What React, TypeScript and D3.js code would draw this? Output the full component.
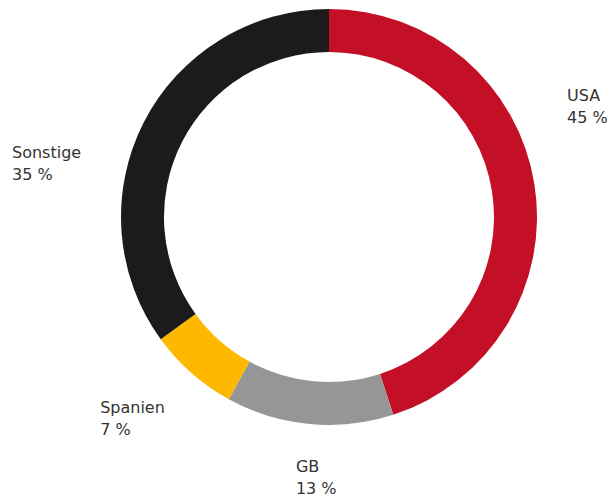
import React from "react";
import * as d3 from "d3";

const categories = ["USA", "GB", "Spanien", "Sonstige"];
const values = [45, 13, 7, 35];
const labels = ["45 %", "13 %", "7 %", "35 %"];
const colors = ["#C41026", "#969696", "#FFB800", "#1B1B1B"];

// layout: direction (degrees from top, clockwise) and distance of each label's top-left anchor
const labelAngles = [64.0, 187.4, 229.4, 280.5];
const labelRadius = [264.8, 257.1, 301.4, 322.4];

export default function App() {
  const width = 610;
  const height = 500;
  const cx = 329;
  const cy = 217;
  const outerR = 208;
  const innerR = 165;

  const data = categories.map((c, i) => ({ c, v: values[i], i }));
  const pie = d3.pie<any>().value((d) => d.v).sort(null);
  const arcs = pie(data);
  const arc = d3.arc<any>().innerRadius(innerR).outerRadius(outerR);

  return (
    <svg
      width={width}
      height={height}
      style={{ position: "absolute", left: 0, top: 0 }}
    >
      <g transform={`translate(${cx},${cy})`}>
        {arcs.map((a, i) => (
          <path key={i} d={arc(a) as string} fill={colors[i]} />
        ))}
        {arcs.map((a, i) => {
          const ang = (labelAngles[i] * Math.PI) / 180;
          const r = labelRadius[i];
          const x = r * Math.sin(ang);
          const y = -r * Math.cos(ang);
          return (
            <text
              key={"t" + i}
              fontFamily="DejaVu Sans, Verdana, sans-serif"
              fontSize={16}
              fill="#333333"
            >
              <tspan x={x} y={y}>
                {categories[i]}
              </tspan>
              <tspan x={x} y={y + 22}>
                {labels[i]}
              </tspan>
            </text>
          );
        })}
      </g>
    </svg>
  );
}
